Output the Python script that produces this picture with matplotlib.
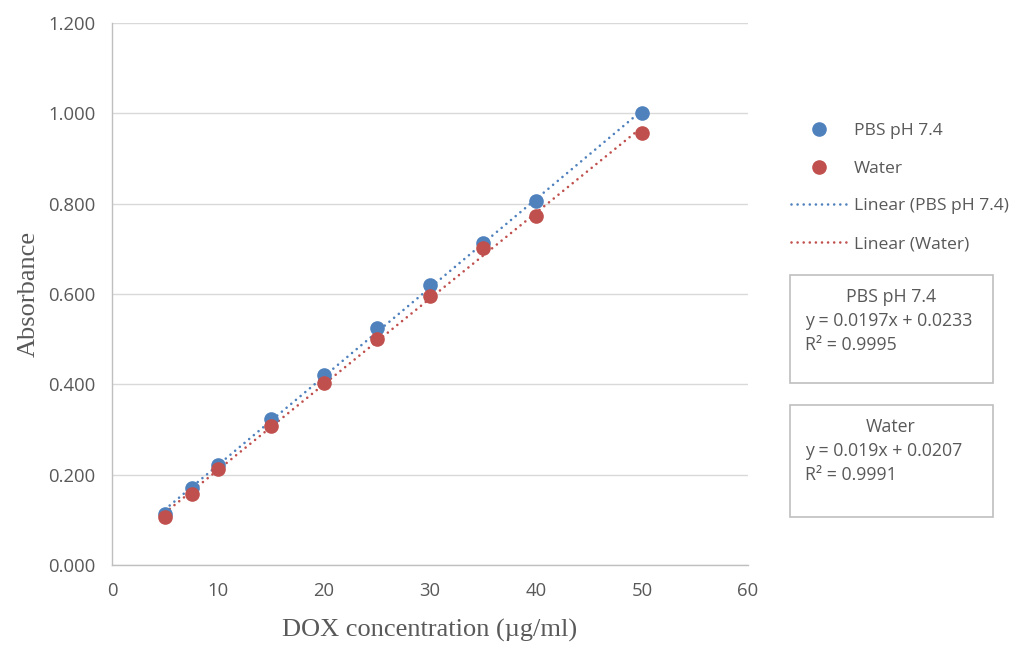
import numpy as np
import matplotlib
matplotlib.use("Agg")
import matplotlib.pyplot as plt
from matplotlib.lines import Line2D
from matplotlib.patches import Rectangle

conc = [5, 7.5, 10, 15, 20, 25, 30, 35, 40, 50]
pbs = [0.112, 0.171, 0.221, 0.324, 0.420, 0.524, 0.620, 0.714, 0.805, 1.000]
water = [0.106, 0.158, 0.212, 0.308, 0.403, 0.501, 0.595, 0.701, 0.773, 0.957]
series_names = ["PBS pH 7.4", "Water"]
eq_texts = [["y = 0.0197x + 0.0233", "R\u00b2 = 0.9995"],
            ["y = 0.019x + 0.0207", "R\u00b2 = 0.9991"]]

blue = "#4F81BD"
red = "#C0504D"
gray = "#595959"

W, H = 1015, 646
fig = plt.figure(figsize=(W / 100, H / 100), dpi=100)
ax = fig.add_axes([112 / W, 1 - 565 / H, (748 - 112) / W, (565 - 23) / H])

tick_font = "Open Sans"
serif = "Liberation Serif"
dots = (0, (0.01, 2.3))
lw_trend = 1.9

# trendlines
for ys, c in [(pbs, blue), (water, red)]:
    m, b = np.polyfit(conc, ys, 1)
    xs = np.array([min(conc), max(conc)])
    ax.plot(xs, m * xs + b, color=c, lw=lw_trend, ls=dots,
            dash_capstyle="round", zorder=2)

ax.plot(conc, pbs, "o", color=blue, ms=9.5, zorder=3)
ax.plot(conc, water, "o", color=red, ms=9.5, zorder=4)

ax.set_xlim(0, 60)
ax.set_ylim(0, 1.2)
ax.set_xticks(np.arange(0, 61, 10))
ax.set_yticks(np.arange(0, 1.21, 0.2))
ax.set_yticklabels([f"{v:.3f}" for v in np.arange(0, 1.21, 0.2)])
ax.grid(axis="y", color="#d9d9d9", lw=1)
ax.set_axisbelow(True)
for s in ["top", "right"]:
    ax.spines[s].set_visible(False)
for s in ["left", "bottom"]:
    ax.spines[s].set_color("#bfbfbf")
    ax.spines[s].set_linewidth(1)
ax.tick_params(length=0, colors=gray, labelsize=13.3, pad=12)
for lab in ax.get_xticklabels() + ax.get_yticklabels():
    lab.set_fontfamily(tick_font)

ax.set_xlabel("DOX concentration (\u00b5g/ml)", fontsize=19, family=serif,
              color=gray, labelpad=14)
ax.set_ylabel("Absorbance", fontsize=19, family=serif, color=gray, labelpad=6)

handles = [
    Line2D([], [], ls="none", marker="o", color=blue, ms=9.5),
    Line2D([], [], ls="none", marker="o", color=red, ms=9.5),
    Line2D([], [], color=blue, lw=lw_trend, ls=dots, dash_capstyle="round"),
    Line2D([], [], color=red, lw=lw_trend, ls=dots, dash_capstyle="round"),
]
labels = series_names + [f"Linear ({n})" for n in series_names]
leg = fig.legend(handles, labels, loc="upper left",
                 bbox_to_anchor=(784 / W, 1 - 116 / H), frameon=False,
                 prop={"family": tick_font, "size": 12.6}, handlelength=3.2,
                 labelspacing=1.22, handletextpad=0.4, borderaxespad=0)
for t in leg.get_texts():
    t.set_color(gray)

boxes = [(275, 383), (405, 517)]
for (top, bot), name, lines in zip(boxes, series_names, eq_texts):
    fig.add_artist(Rectangle((790 / W, 1 - bot / H), (993 - 790) / W, (bot - top) / H,
                             transform=fig.transFigure, fill=False,
                             edgecolor="#bfbfbf", lw=1.2))
    fig.text(891 / W, 1 - (top + 22) / H, name, ha="center", va="center",
             fontsize=12.8, family=tick_font, color=gray)
    for i, ln in enumerate(lines):
        fig.text(805 / W, 1 - (top + 46 + 24 * i) / H, ln, ha="left", va="center",
                 fontsize=12.8, family=tick_font, color=gray)

fig.savefig("out.png", dpi=100)
